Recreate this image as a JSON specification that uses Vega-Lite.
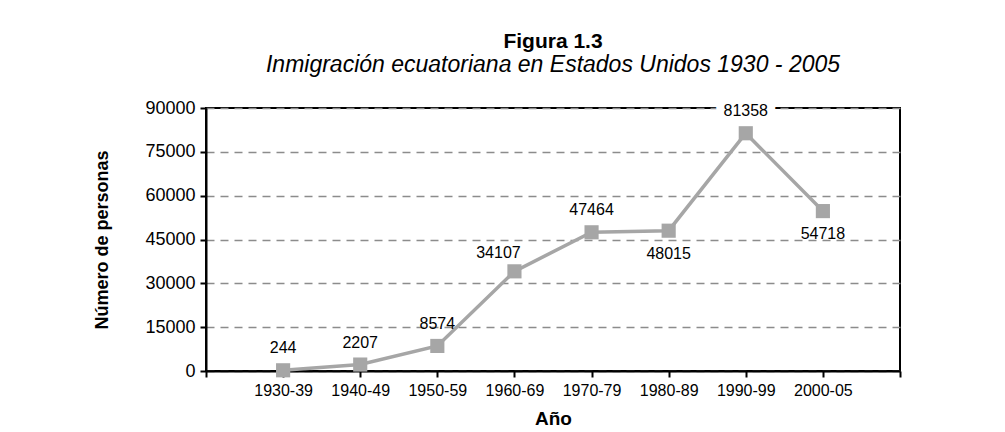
{
  "$schema": "https://vega.github.io/schema/vega-lite/v6.json",
  "width": 694,
  "height": 263,
  "autosize": {"type": "none"},
  "padding": {"left": 206, "top": 108, "right": 105, "bottom": 61},
  "background": "white",
  "title": {
    "text": "Figura 1.3",
    "subtitle": "Inmigración ecuatoriana en Estados Unidos 1930 - 2005",
    "anchor": "middle",
    "font": "Liberation Sans",
    "fontSize": 21,
    "fontWeight": "bold",
    "color": "black",
    "subtitleFont": "Liberation Sans",
    "subtitleFontSize": 23,
    "subtitleFontStyle": "italic",
    "subtitleColor": "black",
    "subtitlePadding": 2,
    "offset": 21
  },
  "data": {
    "values": [
      {"periodo": "1930-39", "personas": 244},
      {"periodo": "1940-49", "personas": 2207},
      {"periodo": "1950-59", "personas": 8574},
      {"periodo": "1960-69", "personas": 34107},
      {"periodo": "1970-79", "personas": 47464},
      {"periodo": "1980-89", "personas": 48015},
      {"periodo": "1990-99", "personas": 81358},
      {"periodo": "2000-05", "personas": 54718}
    ]
  },
  "encoding": {
    "x": {
      "field": "periodo",
      "type": "ordinal",
      "sort": null,
      "scale": {
        "type": "point",
        "padding": 0,
        "domain": ["", "1930-39", "1940-49", "1950-59", "1960-69", "1970-79", "1980-89", "1990-99", "2000-05", " "]
      },
      "axis": {
        "title": "Año",
        "titleFont": "Liberation Sans",
        "titleFontSize": 19,
        "titleFontWeight": "bold",
        "titleColor": "black",
        "titlePadding": 11,
        "labelFont": "Liberation Sans",
        "labelFontSize": 16,
        "labelColor": "black",
        "labelAngle": 0,
        "labelPadding": 5,
        "domainColor": "black",
        "domainWidth": 2,
        "tickColor": "black",
        "tickWidth": 2,
        "tickSize": 6,
        "grid": false
      }
    },
    "y": {
      "field": "personas",
      "type": "quantitative",
      "scale": {"domain": [0, 90000], "nice": false},
      "axis": {
        "title": "Número de personas",
        "titleFont": "Liberation Sans",
        "titleFontSize": 18,
        "titleFontWeight": "bold",
        "titleColor": "black",
        "titlePadding": 33,
        "values": [0, 15000, 30000, 45000, 60000, 75000, 90000],
        "format": "d",
        "labelFont": "Liberation Sans",
        "labelFontSize": 18,
        "labelColor": "black",
        "labelPadding": 5,
        "domainColor": "black",
        "domainWidth": 2,
        "tickColor": "black",
        "tickWidth": 2,
        "tickSize": 6,
        "grid": true,
        "gridColor": "#8c8c8c",
        "gridDash": [8, 6],
        "gridWidth": 1.5
      }
    }
  },
  "layer": [
    {
      "mark": {"type": "line", "color": "#a6a6a6", "strokeWidth": 3.5}
    },
    {
      "mark": {"type": "point", "shape": "square", "filled": true, "color": "#a6a6a6", "opacity": 1, "size": 200}
    },
    {
      "transform": [{"filter": "datum.periodo == '1990-99'"}],
      "mark": {"type": "text", "font": "Liberation Sans", "fontSize": 16, "dy": -27, "stroke": "white", "strokeWidth": 16, "color": "white"},
      "encoding": {"text": {"field": "personas", "type": "quantitative", "format": "d"}}
    },
    {
      "transform": [{"filter": "indexof(['1930-39','1940-49','1950-59','1970-79','1990-99'], datum.periodo) >= 0"}],
      "mark": {"type": "text", "font": "Liberation Sans", "fontSize": 16, "dy": -22, "color": "black"},
      "encoding": {"text": {"field": "personas", "type": "quantitative", "format": "d"}}
    },
    {
      "transform": [{"filter": "datum.periodo == '1960-69'"}],
      "mark": {"type": "text", "font": "Liberation Sans", "fontSize": 16, "dx": -16, "dy": -18, "color": "black"},
      "encoding": {"text": {"field": "personas", "type": "quantitative", "format": "d"}}
    },
    {
      "transform": [{"filter": "datum.periodo == '1980-89' || datum.periodo == '2000-05'"}],
      "mark": {"type": "text", "font": "Liberation Sans", "fontSize": 16, "dy": 23, "color": "black"},
      "encoding": {"text": {"field": "personas", "type": "quantitative", "format": "d"}}
    }
  ],
  "config": {
    "view": {"stroke": "black", "strokeWidth": 2},
    "font": "Liberation Sans"
  }
}
